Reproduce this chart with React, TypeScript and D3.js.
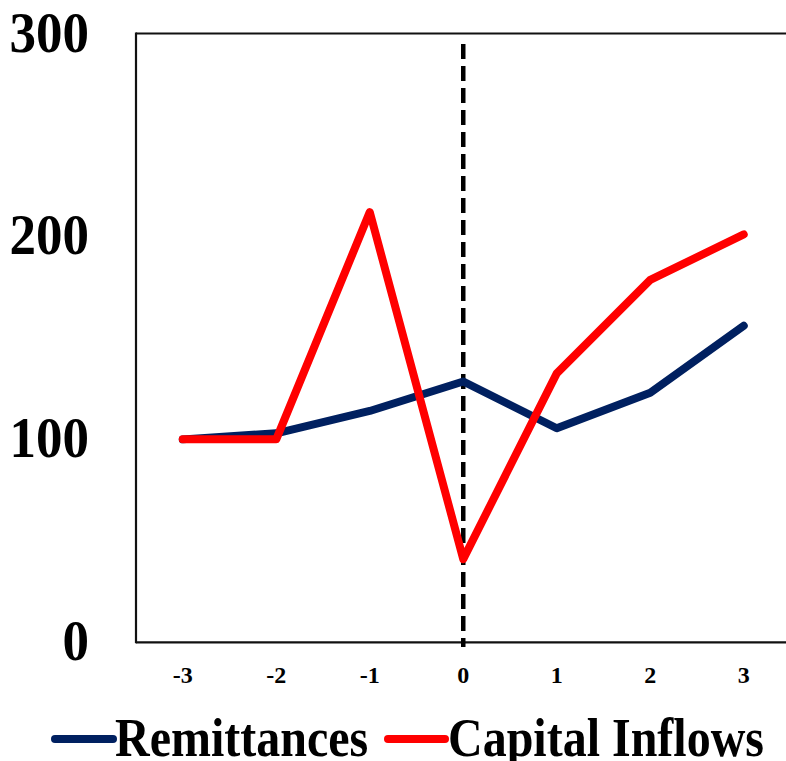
import React from "react";
import * as d3 from "d3";

const categories = ["-3", "-2", "-1", "0", "1", "2", "3"];
const remittances = [100, 103, 114, 128.5, 105.5, 123, 156];
const capitalInflows = [100, 100, 212, 41, 132.5, 178.6, 201];
const yTicks = [0, 100, 200, 300];
const seriesNames = ["Remittances", "Capital Inflows"];
const seriesColors = ["#002060", "#FF0000"];

const W = 786;
const H = 761;
const left = 136;
const top = 33.5;
const bottom = 642.3;

export default function App() {
  const x = d3.scaleBand<string>().domain(categories).range([left, left + 7 * 93.5]).padding(0);
  const y = d3.scaleLinear().domain([0, 300]).range([bottom, top]);
  const cx = (c: string) => (x(c) as number) + x.bandwidth() / 2;
  const line = d3
    .line<number>()
    .x((_, i) => cx(categories[i]))
    .y((d) => y(d));
  const serif = "'Liberation Serif', 'Times New Roman', serif";
  const series = [remittances, capitalInflows];
  const legendItems = [
    { x1: 55, x2: 113, tx: 115 },
    { x1: 388, x2: 445, tx: 448 },
  ];
  return (
    <div style={{ position: "absolute", left: 0, top: 0 }}>
      <svg width={W} height={H} style={{ display: "block" }}>
        <rect x={0} y={0} width={W} height={H} fill="#fff" />
        {/* frame */}
        <line x1={left} x2={W} y1={top} y2={top} stroke="#111" strokeWidth={2.2} />
        <line x1={left} x2={left} y1={top - 1} y2={bottom + 1} stroke="#111" strokeWidth={2.2} />
        <line x1={left} x2={W} y1={bottom} y2={bottom} stroke="#111" strokeWidth={2.2} />
        {/* y labels */}
        {yTicks.map((t) => (
          <text
            key={t}
            transform={`translate(89,${y(t) + 18}) scale(1,1.07)`}
            textAnchor="end"
            fontFamily={serif}
            fontWeight="bold"
            fontSize={53}
            fill="#000"
          >
            {t}
          </text>
        ))}
        {/* x labels */}
        {categories.map((c) => (
          <text
            key={c}
            x={cx(c)}
            y={683}
            textAnchor="middle"
            fontFamily={serif}
            fontWeight="bold"
            fontSize={24}
            fill="#000"
          >
            {c}
          </text>
        ))}
        {/* dashed vertical at 0 */}
        <line
          x1={cx("0")}
          x2={cx("0")}
          y1={44}
          y2={647}
          stroke="#000"
          strokeWidth={4.5}
          strokeDasharray="15 7"
        />
        {series.map((s, i) => (
          <path
            key={i}
            d={line(s) || ""}
            fill="none"
            stroke={seriesColors[i]}
            strokeWidth={8}
            strokeLinecap="round"
            strokeLinejoin="round"
          />
        ))}
        {/* legend */}
        {legendItems.map((l, i) => (
          <g key={i}>
            <line x1={l.x1} x2={l.x2} y1={739} y2={739} stroke={seriesColors[i]} strokeWidth={8} strokeLinecap="round" />
            <text
              transform={`translate(${l.tx},756) scale(1,1.15)`}
              fontFamily={serif}
              fontWeight="bold"
              fontSize={48}
              fill="#000"
            >
              {seriesNames[i]}
            </text>
          </g>
        ))}
      </svg>
    </div>
  );
}
